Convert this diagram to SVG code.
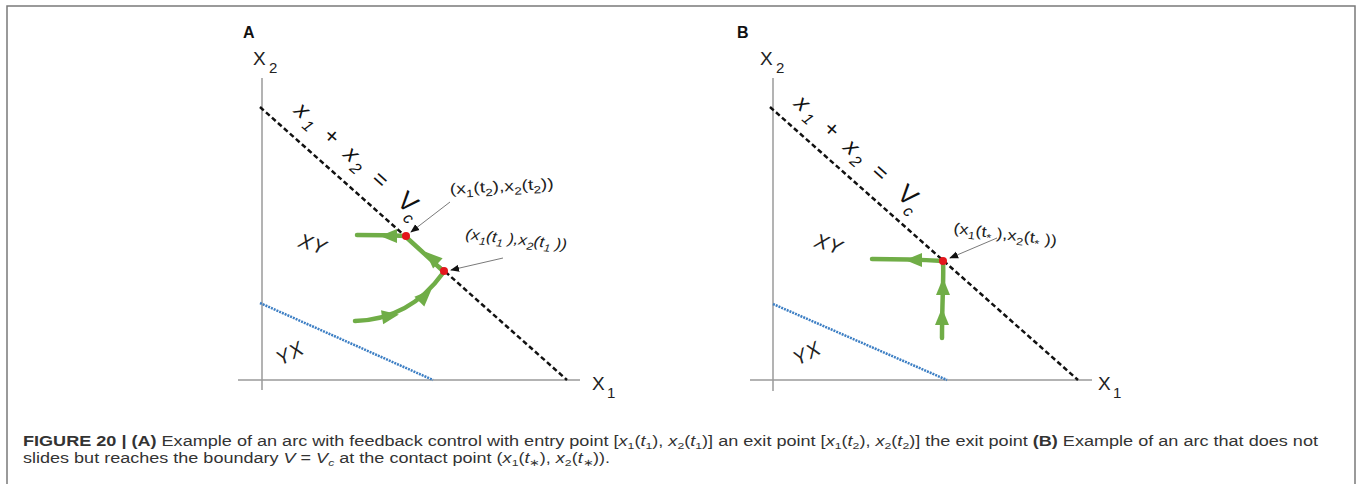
<svg xmlns="http://www.w3.org/2000/svg" width="1357" height="484" viewBox="0 0 1357 484">
<style>
.frame{fill:none;stroke:#7a7a7a;stroke-width:1.5}
.axis{stroke:#9a9a9a;stroke-width:1.5;fill:none}
.vc{stroke:#111;stroke-width:2.5;stroke-dasharray:5 3;fill:none}
.blue{stroke:#3d7fc4;stroke-width:2.5;stroke-dasharray:2 1;fill:none}
.g{stroke:#70ad47;stroke-width:4.5;fill:none;stroke-linecap:round}
.gh{fill:#70ad47}
.dot{fill:#e3161c}
.ptr{stroke:#7a7a7a;stroke-width:1;fill:none}
.ax{font-family:"Liberation Sans",Arial,sans-serif;fill:#222}
.axb{font-size:19px}
.axs{font-size:15px}
.pl{font-family:"Liberation Sans",Arial,sans-serif;font-weight:bold;font-size:16px;fill:#111}
.eq{font-family:"Liberation Sans",Arial,sans-serif;font-style:italic;font-size:23px;fill:#111}
.eqs{font-size:16px}
.eqV{font-size:26px;font-style:normal}
.reg{font-family:"Liberation Sans",Arial,sans-serif;font-style:italic;font-size:20px;fill:#222;letter-spacing:1px}
.lab{font-family:"Liberation Sans",Arial,sans-serif;font-size:15px;fill:#222}
.ls{font-size:10.5px;baseline-shift:-4px}
.cap{font-family:"Liberation Sans",Arial,sans-serif;font-size:14px;fill:#333}
.cs{font-size:9.5px;baseline-shift:-3px}
.b{font-weight:bold}
.i{font-style:italic}
</style>
<defs>
<polygon id="ah" points="9,0 -8,-7 -8,7"/>
<marker id="pa" viewBox="0 0 10 10" refX="9" refY="5" markerWidth="9" markerHeight="9" orient="auto" markerUnits="userSpaceOnUse">
<path d="M0,1 L10,5 L0,9 Z" fill="#111"/>
</marker>
</defs>
<path class="frame" d="M7,484 V6 H1355 V484"/>

<g id="panelA">
<text class="pl" x="243" y="38">A</text>
<g id="axesA">
<line class="axis" x1="262" y1="78" x2="262" y2="390"/>
<line class="axis" x1="238" y1="380" x2="580" y2="380"/>
<text class="ax axb" x="253" y="65">X<tspan class="axs" x="269" y="73">2</tspan></text>
<text class="ax axb" x="592" y="390">X<tspan class="axs" x="607" y="398">1</tspan></text>
</g>
<line class="vc" x1="260" y1="107" x2="567" y2="380"/>
<line class="blue" x1="260" y1="303" x2="433" y2="380"/>
<g transform="translate(293,112) rotate(41.6)">
<text class="eq"><tspan x="0" y="0">x</tspan><tspan class="eqs" x="16" y="6">1</tspan><tspan x="38" y="0">+</tspan><tspan x="66" y="0">x</tspan><tspan class="eqs" x="80" y="6">2</tspan><tspan x="103" y="0">=</tspan><tspan class="eqV" x="137" y="0">V</tspan><tspan class="eqs" x="153" y="8">c</tspan></text>
</g>
<text class="reg" transform="translate(313,244) rotate(18)" text-anchor="middle" dy="7">XY</text>
<text class="reg" transform="translate(290,353) rotate(-28)" text-anchor="middle" dy="7">YX</text>
</g>

<g id="panelB">
<text class="pl" x="737" y="38">B</text>
<g id="axesB">
<line class="axis" x1="773" y1="78" x2="773" y2="391"/>
<line class="axis" x1="750" y1="380" x2="1092" y2="380"/>
<text class="ax axb" x="760" y="65">X<tspan class="axs" x="776" y="73">2</tspan></text>
<text class="ax axb" x="1098" y="390">X<tspan class="axs" x="1113" y="398">1</tspan></text>
</g>
<line class="vc" x1="770" y1="107" x2="1078" y2="380"/>
<line class="blue" x1="773" y1="304" x2="947" y2="380"/>
<g transform="translate(793,105) rotate(41.6)">
<text class="eq"><tspan x="0" y="0">x</tspan><tspan class="eqs" x="16" y="6">1</tspan><tspan x="38" y="0">+</tspan><tspan x="66" y="0">x</tspan><tspan class="eqs" x="80" y="6">2</tspan><tspan x="103" y="0">=</tspan><tspan class="eqV" x="137" y="0">V</tspan><tspan class="eqs" x="153" y="8">c</tspan></text>
</g>
<text class="reg" transform="translate(829,244) rotate(18)" text-anchor="middle" dy="7">XY</text>
<text class="reg" transform="translate(807,353) rotate(-28)" text-anchor="middle" dy="7">YX</text>
</g>

<g id="trajectories">
<path class="g" d="M405,236 Q385,235 357,235"/>
<path class="g" d="M443,271 Q427,256 406,237"/>
<path class="g" d="M355,321 C390,320 420,305 443,273"/>
<use href="#ah" class="gh" transform="translate(389,236) rotate(180)"/>
<use href="#ah" class="gh" transform="translate(432,258) rotate(-137)"/>
<use href="#ah" class="gh" transform="translate(390,316) rotate(-9)"/>
<use href="#ah" class="gh" transform="translate(425,296) rotate(-45)"/>
<path class="g" d="M943,261 Q910,259 872,259"/>
<path class="g" d="M942,338 C942,300 944,275 943,262"/>
<use href="#ah" class="gh" transform="translate(914,260) rotate(180)"/>
<use href="#ah" class="gh" transform="translate(943,287) rotate(-90)"/>
<use href="#ah" class="gh" transform="translate(942,317) rotate(-90)"/>
</g>

<g id="points">
<circle class="dot" cx="406" cy="236" r="4"/>
<circle class="dot" cx="444" cy="271" r="4"/>
<circle class="dot" cx="943" cy="261" r="4"/>
</g>

<g id="pointers">
<line class="ptr" x1="450" y1="202" x2="411" y2="232" marker-end="url(#pa)"/>
<line class="ptr" x1="503" y1="258" x2="451" y2="270" marker-end="url(#pa)"/>
<line class="ptr" x1="997" y1="238" x2="950" y2="258" marker-end="url(#pa)"/>
</g>

<g id="labels">
<text class="lab" transform="translate(450,194) rotate(-3)" textLength="104" lengthAdjust="spacingAndGlyphs">(x<tspan class="ls">1</tspan>(t<tspan class="ls">2</tspan>),x<tspan class="ls">2</tspan>(t<tspan class="ls">2</tspan>))</text>
<text class="lab i" transform="translate(465,239) rotate(6)" textLength="102" lengthAdjust="spacingAndGlyphs">(x<tspan class="ls">1</tspan>(t<tspan class="ls">1</tspan> ),x<tspan class="ls">2</tspan>(t<tspan class="ls">1</tspan> ))</text>
<text class="lab" transform="translate(953,233) rotate(7)" textLength="104" lengthAdjust="spacingAndGlyphs">(x<tspan class="ls">1</tspan>(t<tspan class="ls">*</tspan> ),x<tspan class="ls">2</tspan>(t<tspan class="ls">*</tspan> ))</text>
</g>

<g id="caption">
<text class="cap" x="23" y="446" textLength="1295" lengthAdjust="spacingAndGlyphs"><tspan class="b">FIGURE 20 | (A)</tspan> Example of an arc with feedback control with entry point [<tspan class="i">x</tspan><tspan class="cs">1</tspan>(<tspan class="i">t</tspan><tspan class="cs">1</tspan>), <tspan class="i">x</tspan><tspan class="cs">2</tspan>(<tspan class="i">t</tspan><tspan class="cs">1</tspan>)] an exit point [<tspan class="i">x</tspan><tspan class="cs">1</tspan>(<tspan class="i">t</tspan><tspan class="cs">2</tspan>), <tspan class="i">x</tspan><tspan class="cs">2</tspan>(<tspan class="i">t</tspan><tspan class="cs">2</tspan>)] the exit point <tspan class="b">(B)</tspan> Example of an arc that does not</text>
<text class="cap" x="23" y="463" textLength="587" lengthAdjust="spacingAndGlyphs">slides but reaches the boundary <tspan class="i">V</tspan> = <tspan class="i">V</tspan><tspan class="cs i">c</tspan> at the contact point (<tspan class="i">x</tspan><tspan class="cs">1</tspan>(<tspan class="i">t</tspan><tspan class="cs">∗</tspan>), <tspan class="i">x</tspan><tspan class="cs">2</tspan>(<tspan class="i">t</tspan><tspan class="cs">∗</tspan>)).</text>
</g>
</svg>
